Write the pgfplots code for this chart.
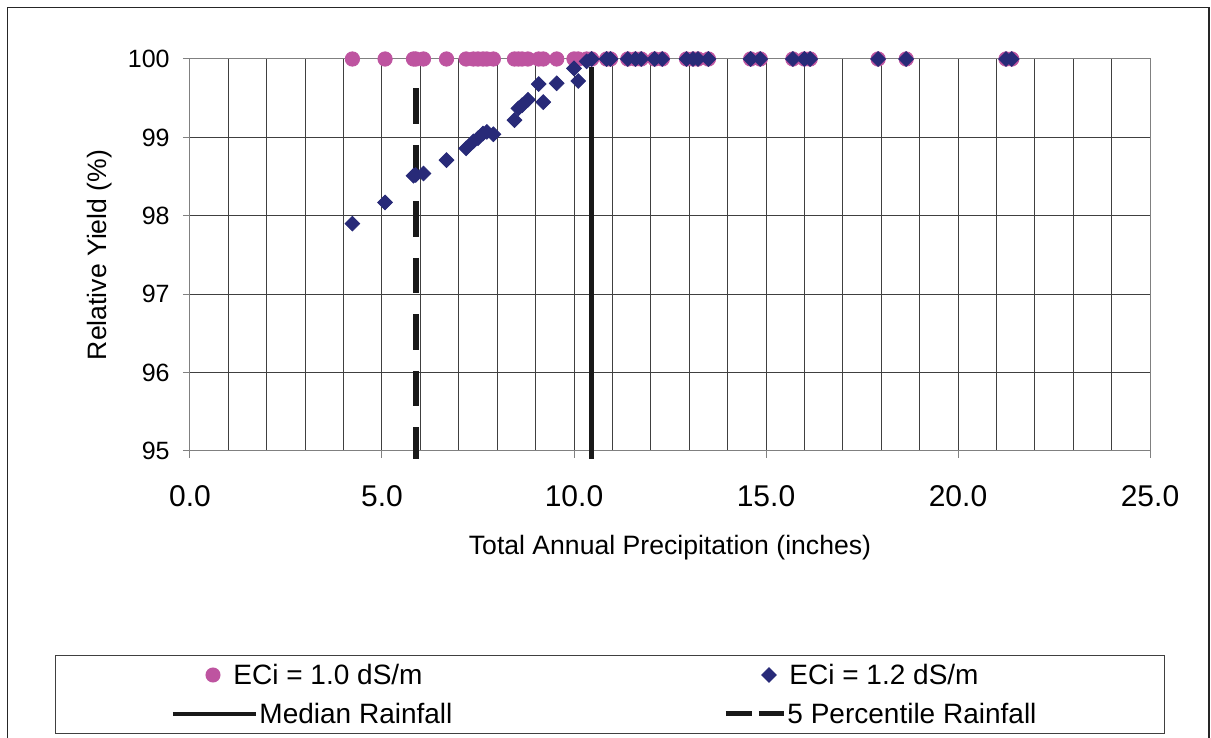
\documentclass[border=0pt]{standalone}
\usepackage{fontspec}
\setmainfont{Liberation Sans}
\usepackage{pgfplots}
\pgfplotsset{compat=1.18}
\usepackage{pgfplotstable}
\definecolor{pinkc}{RGB}{190,84,160}
\definecolor{navyc}{RGB}{40,42,120}

% x = total annual precipitation (in), ya = ECi 1.0, yb = ECi 1.2
\pgfplotstableread{
x      ya     yb
4.23   100    97.90
5.08   100    98.17
5.82   100    98.51
5.88   100    98.52
6.08   100    98.54
6.68   100    98.71
7.19   100    98.86
7.38   100    98.95
7.50   100    98.99
7.63   100    99.05
7.73   100    99.07
7.90   100    99.04
8.45   100    99.22
8.55   100    99.37
8.65   100    99.41
8.80   100    99.48
9.08   100    99.68
9.20   100    99.45
9.55   100    99.69
10.00  100    99.88
10.11  100    99.72
10.33  100    99.97
10.46  100    100
10.85  100    100
10.95  100    100
11.40  100    100
11.60  100    100
11.75  100    100
12.10  100    100
12.30  100    100
12.93  100    100
13.10  100    100
13.23  100    100
13.50  100    100
14.60  100    100
14.85  100    100
15.70  100    100
16.00  100    100
16.15  100    100
17.92  100    100
18.65  100    100
21.25  100    100
21.40  100    100
}\rain

\begin{document}
\begin{tikzpicture}
\useasboundingbox (-95pt,-143.5pt) rectangle (510.5pt,225.5pt);
\begin{axis}[
  at={(0pt,0pt)}, anchor=south west, scale only axis,
  width=480pt, height=196pt,
  xmin=0, xmax=25, ymin=95, ymax=100,
  xtick={0,5,...,25}, minor xtick={0,1,...,25},
  ytick={95,96,...,100},
  grid=both,
  major grid style={black!75, line width=0.5pt},
  minor grid style={black!75, line width=0.5pt},
  axis line style={gray, line width=0.5pt},
  tick style={gray, line width=0.5pt},
  tick align=outside, major tick length=3.5pt, minor tick length=0pt,
  xtick pos=left, ytick pos=left,
  clip=false,
  /pgf/number format/assume math mode=true,
  xticklabel style={font=\fontsize{15}{18}\selectfont,
    /pgf/number format/fixed, /pgf/number format/fixed zerofill,
    /pgf/number format/precision=1,
    anchor=north, inner sep=0pt, yshift=-13.5pt},
  yticklabel style={font=\fontsize{12.5}{15}\selectfont,
    anchor=east, inner sep=0pt, xshift=-6.5pt},
  xlabel={Total Annual Precipitation (inches)},
  ylabel={Relative Yield (\%)},
  label style={font=\fontsize{13.3}{16}\selectfont},
  xlabel style={at={(axis description cs:0.5,-0.2474)}, anchor=center},
  ylabel style={at={(axis description cs:-0.09375,0.5)}, anchor=center},
  legend columns=2,
  legend cell align=left,
  legend style={at={(-0.140625,-0.520408)}, anchor=north west,
    draw=black!75, line width=0.5pt, inner sep=0pt,
    column sep=0pt, row sep=0pt,
    font=\fontsize{14}{17}\selectfont,
    nodes={inner sep=0pt, text height=14.7pt, text depth=4.8pt}},
]
% reference rainfall lines (drawn beneath the markers)
\addplot[black!90, line width=2.3pt, forget plot]
  coordinates {(10.46,94.9) (10.46,99.9)};
\addplot[black!90, line width=3pt, dash pattern=on 17.75pt off 10.5pt, forget plot]
  coordinates {(5.88,99.626) (5.88,94.9)};

\addplot[only marks, mark=*, mark size=3.6pt, color=pinkc,
  mark options={draw=pinkc, fill=pinkc},
  legend image code/.code={\path (-58.5pt,0pt) (43pt,0pt);
    \fill[pinkc] (20pt,0pt) circle (3.5pt);}]
  table[x=x, y=ya] {\rain};
\addlegendentry{\hspace*{-13pt}ECi = 1.0 dS/m}

\addplot[only marks, mark=square*, mark size=2.6pt, color=navyc,
  mark options={draw=navyc, fill=navyc, rotate=45},
  legend image code/.code={\path (0pt,0pt) (30.5pt,0pt);
    \fill[navyc] (21.5pt,3.6pt) -- (25.1pt,0pt) -- (21.5pt,-3.6pt) -- (17.9pt,0pt) -- cycle;}]
  table[x=x, y=yb] {\rain};
\addlegendentry{\hspace*{1pt}ECi = 1.2 dS/m}

\addlegendimage{legend image code/.code={\path (-58.5pt,0pt) (43pt,0pt);
    \draw[black!90, line width=2pt] (0pt,0pt) -- (41.5pt,0pt);}}
\addlegendentry{\makebox[232pt][l]{Median Rainfall}}

\addlegendimage{legend image code/.code={\path (0pt,0pt) (30.5pt,0pt);
    \draw[black!90, line width=2.5pt, dash pattern=on 13pt off 3.5pt] (0pt,0pt) -- (29pt,0pt);}}
\addlegendentry{\makebox[188.5pt][l]{5 Percentile Rainfall}}
\end{axis}
\draw[black!85, line width=0.6pt] (-91.25pt,-150pt) -- (-91.25pt,221.75pt)
  -- (509.5pt,221.75pt) -- (509.5pt,-150pt);
\end{tikzpicture}
\end{document}
